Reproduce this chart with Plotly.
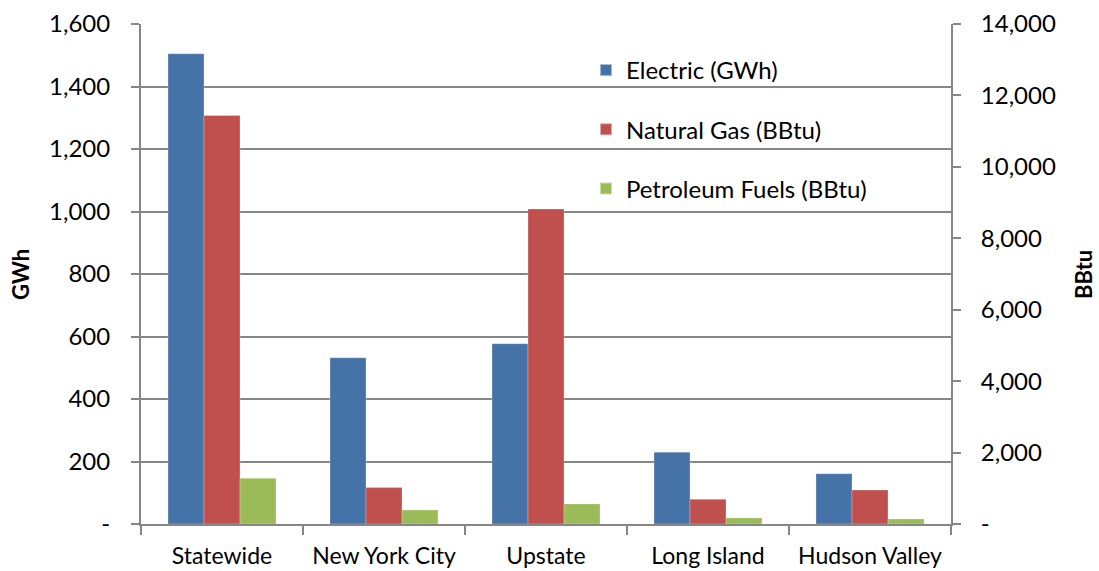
import plotly.graph_objects as go

categories = ["Statewide", "New York City", "Upstate", "Long Island", "Hudson Valley"]
electric_gwh = [1505, 532, 577, 230, 161]
natural_gas_bbtu = [11440, 1020, 8820, 690, 950]
petroleum_bbtu = [1280, 390, 560, 170, 140]

left_ticks = [0, 200, 400, 600, 800, 1000, 1200, 1400, 1600]
left_text = ["-", "200", "400", "600", "800", "1,000", "1,200", "1,400", "1,600"]
right_ticks = [0, 2000, 4000, 6000, 8000, 10000, 12000, 14000]
right_text = ["-", "2,000", "4,000", "6,000", "8,000", "10,000", "12,000", "14,000"]

FONT = "Lato"
AX = "#868686"
FS = 24

W, H = 1099, 571
L, T = 141, 24
R = W - 951
B = H - 524
PW = W - L - R
PH = H - T - B

fig = go.Figure()
fig.add_trace(go.Bar(x=categories, y=electric_gwh, name="Electric (GWh)",
                     marker=dict(color="#4673A7", line=dict(color="rgba(255,255,255,0.5)", width=0.5)),
                     yaxis="y", offsetgroup="e", alignmentgroup="a", legendgroup="e"))
fig.add_trace(go.Bar(x=categories, y=natural_gas_bbtu, name="Natural Gas (BBtu)",
                     marker=dict(color="#BF504D", line=dict(color="rgba(255,255,255,0.5)", width=0.5)),
                     yaxis="y2", offsetgroup="g", alignmentgroup="a", legendgroup="g"))
fig.add_trace(go.Bar(x=categories, y=petroleum_bbtu, name="Petroleum Fuels (BBtu)",
                     marker=dict(color="#9BBB59", line=dict(color="rgba(255,255,255,0.5)", width=0.5)),
                     yaxis="y2", offsetgroup="p", alignmentgroup="a", legendgroup="p"))

def px_x(xp):
    return (xp - L) / PW

def px_y(yp):
    return 1 - (yp - T) / PH

fig.update_layout(
    width=W, height=H,
    margin=dict(l=L, r=R, t=T, b=B, autoexpand=False),
    paper_bgcolor="white", plot_bgcolor="white",
    font=dict(family=FONT, size=FS, color="black"),
    barmode="group", bargap=1/3, bargroupgap=0,
    showlegend=True,
    legend=dict(x=px_x(586), y=px_y(48), xanchor="left", yanchor="top",
                bgcolor="rgba(0,0,0,0)", font=dict(family=FONT, size=FS),
                tracegroupgap=25, itemsizing="constant"),
    xaxis=dict(showline=True, linecolor=AX, linewidth=2, ticks="outside",
               tickson="boundaries", ticklen=9, tickcolor=AX, tickwidth=2,
               showgrid=False, tickfont=dict(size=23), ticklabelstandoff=10,
               automargin=False),
    yaxis=dict(range=[0, 1600], tickvals=left_ticks, ticktext=left_text,
               showline=True, linecolor=AX, linewidth=2, ticks="outside",
               ticklen=8, tickcolor=AX, tickwidth=2,
               showgrid=True, gridcolor=AX, gridwidth=1.5, zeroline=False,
               tickfont=dict(size=FS), automargin=False, ticklabelstandoff=16),
    yaxis2=dict(range=[0, 14000], tickvals=right_ticks, ticktext=right_text,
                overlaying="y", side="right",
                showline=True, linecolor=AX, linewidth=2, ticks="outside",
                ticklen=8, tickcolor=AX, tickwidth=2,
                showgrid=False, zeroline=False,
                tickfont=dict(size=FS), automargin=False, ticklabelstandoff=15),
    annotations=[
        dict(text="<b>GWh</b>", xref="paper", yref="paper",
             x=px_x(20), y=px_y(275), textangle=-90,
             showarrow=False, font=dict(size=22, family=FONT),
             xanchor="center", yanchor="middle"),
        dict(text="<b>BBtu</b>", xref="paper", yref="paper",
             x=px_x(1083), y=px_y(275), textangle=-90,
             showarrow=False, font=dict(size=22, family=FONT),
             xanchor="center", yanchor="middle"),
    ],
)

fig.write_html("out.html",
               config={"displayModeBar": False},
               post_script="document.body.style.margin='0';document.body.style.overflow='hidden';")
